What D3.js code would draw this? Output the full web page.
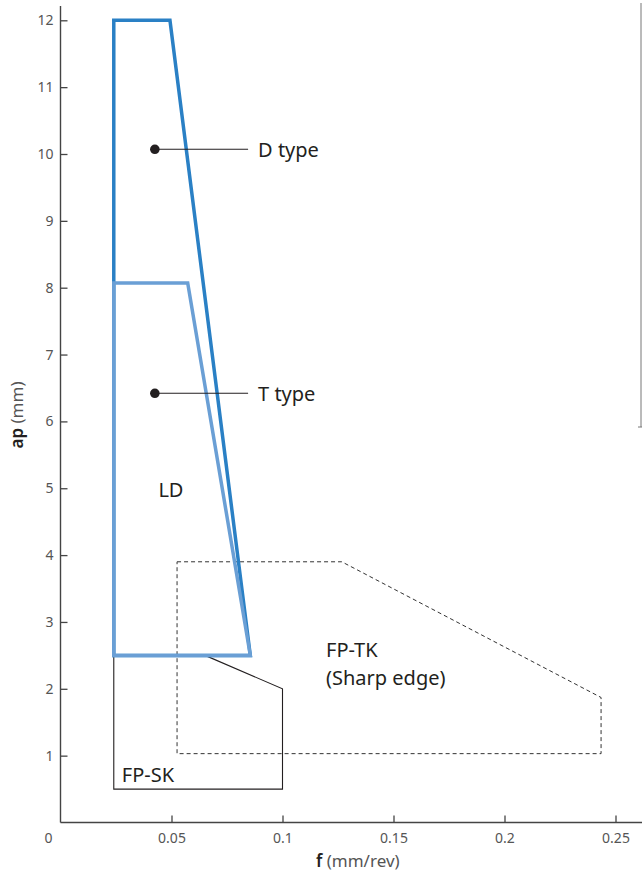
<!DOCTYPE html>
<html>
<head>
<meta charset="utf-8">
<script src="https://d3js.org/d3.v7.min.js"></script>
<style>
body { margin: 0; background: #fff; }
text { font-family: "Noto Sans", "Open Sans", sans-serif; }
.tick text { fill: #555; font-size: 14px; }
.lbl { fill: #231f20; font-size: 20px; }
</style>
</head>
<body>
<div id="chart"></div>
<script>
// tick values
var xTicks = [0, 0.05, 0.1, 0.15, 0.2, 0.25];
var yTicks = [1, 2, 3, 4, 5, 6, 7, 8, 9, 10, 11, 12];

// regions [f, ap]
var dType = [[0.024, 12], [0.0493, 12], [0.0855, 2.5], [0.024, 2.5]];
var tType = [[0.024, 8.07], [0.0573, 8.07], [0.0855, 2.5], [0.024, 2.5]];
var fpSK = [[0.0651, 2.5], [0.1, 2.0], [0.1, 0.5], [0.024, 0.5], [0.024, 2.5]];
var fpTK = [[0.0525, 3.9], [0.1267, 3.9], [0.2435, 1.87], [0.2435, 1.03], [0.0525, 1.03]];

// callouts: dot position, line end, label
var callouts = [
  {name: "D type", f: 0.0425, ap: 10.07, fEnd: 0.0845},
  {name: "T type", f: 0.0425, ap: 6.42, fEnd: 0.0845}
];

// region labels (baseline positions)
var regionLabels = [
  {text: "LD", f: 0.0441, ap: 4.87},
  {text: "FP-TK", f: 0.1196, ap: 2.476},
  {text: "(Sharp edge)", f: 0.1196, ap: 2.057},
  {text: "FP-SK", f: 0.0276, ap: 0.60}
];

var W = 642, H = 874;
var x = d3.scaleLinear().domain([0, 0.25]).range([60.5, 615.5]);
var y = d3.scaleLinear().domain([0, 12]).range([822.5, 20.3]);

var svg = d3.select("#chart").append("svg")
  .attr("width", W).attr("height", H);

// axes
var gx = svg.append("g")
  .attr("transform", "translate(0," + y(0) + ")")
  .call(d3.axisBottom(x).tickValues(xTicks.slice(1)).tickSizeInner(-7).tickSizeOuter(0)
    .tickFormat(d3.format("~g")));
gx.select(".domain").remove();
gx.selectAll(".tick line").attr("stroke", "#444").attr("stroke-width", 1.3);
gx.selectAll(".tick text").attr("y", 11);
// the 0 corner label
gx.append("text").attr("x", x(0) - 12).attr("y", 11).attr("dy", "0.71em")
  .attr("text-anchor", "middle").attr("fill", "#555").style("font-size", "14px")
  .text(xTicks[0]);

var gy = svg.append("g")
  .attr("transform", "translate(" + x(0) + ",0)")
  .call(d3.axisLeft(y).tickValues(yTicks).tickSizeInner(-7).tickSizeOuter(0));
gy.select(".domain").remove();
gy.selectAll(".tick line").attr("stroke", "#444").attr("stroke-width", 1.3);
gy.selectAll(".tick text").attr("x", -7);

svg.append("line").attr("x1", x(0)).attr("x2", W).attr("y1", y(0)).attr("y2", y(0))
  .attr("stroke", "#444").attr("stroke-width", 1.4);
svg.append("line").attr("x1", x(0)).attr("x2", x(0)).attr("y1", 6).attr("y2", y(0))
  .attr("stroke", "#444").attr("stroke-width", 1.4);

// axis titles
var xt = svg.append("text").attr("x", 316).attr("y", 867).attr("fill", "#231f20")
  .style("font-size", "17px");
xt.append("tspan").attr("font-weight", "600").text("f");
xt.append("tspan").attr("fill", "#555").text(" (mm/rev)");

var yt = svg.append("text").attr("transform", "translate(23,415) rotate(-90)")
  .attr("text-anchor", "middle").attr("fill", "#231f20").style("font-size", "17px");
yt.append("tspan").attr("font-weight", "600").text("ap");
yt.append("tspan").attr("fill", "#555").text(" (mm)");

var openLine = d3.line().x(function(d) { return x(d[0]); }).y(function(d) { return y(d[1]); });
var loopLine = d3.line().x(function(d) { return x(d[0]); }).y(function(d) { return y(d[1]); })
  .curve(d3.curveLinearClosed);

// FP-TK dashed
svg.append("path").datum(fpTK).attr("d", loopLine)
  .attr("fill", "none").attr("stroke", "#333").attr("stroke-width", 1)
  .attr("stroke-dasharray", "4,3");

// FP-SK
svg.append("path").datum(fpSK).attr("d", openLine)
  .attr("fill", "none").attr("stroke", "#231f20").attr("stroke-width", 1.1);

// D type then T type on top
svg.append("path").datum(dType).attr("d", loopLine)
  .attr("fill", "none").attr("stroke", "#2a80c5").attr("stroke-width", 3.5);
svg.append("path").datum(tType).attr("d", loopLine)
  .attr("fill", "none").attr("stroke", "#6a9fd5").attr("stroke-width", 3.5);

// callouts
callouts.forEach(function(c) {
  svg.append("line").attr("x1", x(c.f)).attr("x2", x(c.fEnd))
    .attr("y1", y(c.ap)).attr("y2", y(c.ap)).attr("stroke", "#231f20").attr("stroke-width", 1.1);
  svg.append("circle").attr("cx", x(c.f)).attr("cy", y(c.ap)).attr("r", 4.8).attr("fill", "#231f20");
  svg.append("text").attr("class", "lbl").attr("x", x(c.fEnd) + 10).attr("y", y(c.ap))
    .attr("dy", "0.38em").text(c.name);
});

regionLabels.forEach(function(r) {
  svg.append("text").attr("class", "lbl").attr("x", x(r.f)).attr("y", y(r.ap)).text(r.text);
});

// thin border at right edge
svg.append("line").attr("x1", 641).attr("x2", 641).attr("y1", 3).attr("y2", 427)
  .attr("stroke", "#777").attr("stroke-width", 1);
svg.append("line").attr("x1", 638).attr("x2", 642).attr("y1", 427).attr("y2", 427)
  .attr("stroke", "#777").attr("stroke-width", 1);
</script>
</body>
</html>
